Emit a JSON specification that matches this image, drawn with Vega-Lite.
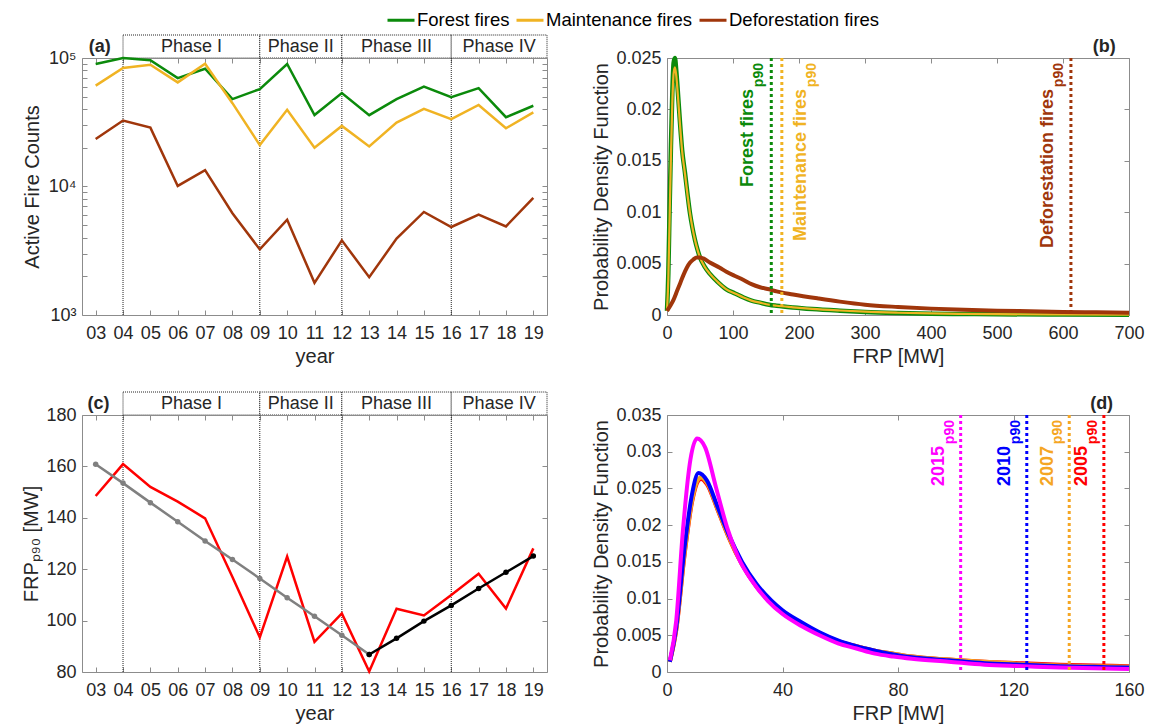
{
 "$schema": "https://vega.github.io/schema/vega-lite/v6.json",
 "padding": {"left": 21, "top": 5, "right": 5, "bottom": 5},
 "background": "white",
 "config": {
  "font": "Liberation Sans",
  "view": {"stroke": "#8c8c8c", "strokeWidth": 1},
  "axis": {"domain": false, "grid": false, "labelFontSize": 18, "titleFontSize": 20, "titleFontWeight": "normal", "labelColor": "#262626", "titleColor": "#262626", "tickColor": "#8c8c8c", "tickSize": -5, "labelFlush": false, "labelOverlap": false, "labelFont": "Liberation Sans", "titleFont": "Liberation Sans"},
  "axisX": {"labelPadding": 14, "titlePadding": 4},
  "axisY": {"labelPadding": 11, "titlePadding": 4},
  "legend": {"labelFont": "Liberation Sans"}
 },
 "datasets": {
  "phases": [
   {"phase": "Phase I", "start": 4, "end": 9},
   {"phase": "Phase II", "start": 9, "end": 12},
   {"phase": "Phase III", "start": 12, "end": 16},
   {"phase": "Phase IV", "start": 16, "end": 19.5}
  ],
  "fires": [
   {"year":3,"type":"Forest fires","count":89800},{"year":4,"type":"Forest fires","count":100000},{"year":5,"type":"Forest fires","count":96000},{"year":6,"type":"Forest fires","count":69800},{"year":7,"type":"Forest fires","count":82500},{"year":8,"type":"Forest fires","count":47900},{"year":9,"type":"Forest fires","count":57300},{"year":10,"type":"Forest fires","count":89800},{"year":11,"type":"Forest fires","count":36000},{"year":12,"type":"Forest fires","count":53300},{"year":13,"type":"Forest fires","count":35900},{"year":14,"type":"Forest fires","count":47900},{"year":15,"type":"Forest fires","count":60000},{"year":16,"type":"Forest fires","count":49500},{"year":17,"type":"Forest fires","count":58300},{"year":18,"type":"Forest fires","count":34600},{"year":19,"type":"Forest fires","count":42500},
   {"year":3,"type":"Maintenance fires","count":61000},{"year":4,"type":"Maintenance fires","count":83500},{"year":5,"type":"Maintenance fires","count":88700},{"year":6,"type":"Maintenance fires","count":64600},{"year":7,"type":"Maintenance fires","count":90300},{"year":8,"type":"Maintenance fires","count":44500},{"year":9,"type":"Maintenance fires","count":21000},{"year":10,"type":"Maintenance fires","count":39500},{"year":11,"type":"Maintenance fires","count":20000},{"year":12,"type":"Maintenance fires","count":29600},{"year":13,"type":"Maintenance fires","count":20500},{"year":14,"type":"Maintenance fires","count":31400},{"year":15,"type":"Maintenance fires","count":40200},{"year":16,"type":"Maintenance fires","count":33400},{"year":17,"type":"Maintenance fires","count":43100},{"year":18,"type":"Maintenance fires","count":28400},{"year":19,"type":"Maintenance fires","count":37700},
   {"year":3,"type":"Deforestation fires","count":23400},{"year":4,"type":"Deforestation fires","count":32600},{"year":5,"type":"Deforestation fires","count":28700},{"year":6,"type":"Deforestation fires","count":10100},{"year":7,"type":"Deforestation fires","count":13400},{"year":8,"type":"Deforestation fires","count":6200},{"year":9,"type":"Deforestation fires","count":3240},{"year":10,"type":"Deforestation fires","count":5520},{"year":11,"type":"Deforestation fires","count":1780},{"year":12,"type":"Deforestation fires","count":3810},{"year":13,"type":"Deforestation fires","count":1970},{"year":14,"type":"Deforestation fires","count":3930},{"year":15,"type":"Deforestation fires","count":6340},{"year":16,"type":"Deforestation fires","count":4840},{"year":17,"type":"Deforestation fires","count":6040},{"year":18,"type":"Deforestation fires","count":4890},{"year":19,"type":"Deforestation fires","count":8150}
  ],
  "pdfb": [
   {"type":"Forest fires","frp":0,"pdf":0.0004},{"type":"Forest fires","frp":2,"pdf":0.004},{"type":"Forest fires","frp":4,"pdf":0.0105},{"type":"Forest fires","frp":6,"pdf":0.0165},{"type":"Forest fires","frp":8,"pdf":0.0215},{"type":"Forest fires","frp":10,"pdf":0.0245},{"type":"Forest fires","frp":12,"pdf":0.025},{"type":"Forest fires","frp":14,"pdf":0.0238},{"type":"Forest fires","frp":17,"pdf":0.0212},{"type":"Forest fires","frp":19.7,"pdf":0.0187},{"type":"Forest fires","frp":23,"pdf":0.016},{"type":"Forest fires","frp":27.3,"pdf":0.0138},{"type":"Forest fires","frp":31,"pdf":0.0118},{"type":"Forest fires","frp":34.8,"pdf":0.0099},{"type":"Forest fires","frp":38.5,"pdf":0.0085},{"type":"Forest fires","frp":42.4,"pdf":0.0073},{"type":"Forest fires","frp":46,"pdf":0.0064},{"type":"Forest fires","frp":50,"pdf":0.0056},{"type":"Forest fires","frp":57,"pdf":0.0047},{"type":"Forest fires","frp":65,"pdf":0.004},{"type":"Forest fires","frp":77,"pdf":0.0032},{"type":"Forest fires","frp":90,"pdf":0.0025},{"type":"Forest fires","frp":103,"pdf":0.0021},{"type":"Forest fires","frp":116,"pdf":0.0017},{"type":"Forest fires","frp":128,"pdf":0.0014},{"type":"Forest fires","frp":141,"pdf":0.0012},{"type":"Forest fires","frp":155,"pdf":0.001},{"type":"Forest fires","frp":166,"pdf":0.0009},{"type":"Forest fires","frp":191,"pdf":0.00073},{"type":"Forest fires","frp":220,"pdf":0.00058},{"type":"Forest fires","frp":262,"pdf":0.00042},{"type":"Forest fires","frp":300,"pdf":0.0003},{"type":"Forest fires","frp":350,"pdf":0.0002},{"type":"Forest fires","frp":400,"pdf":0.00013},{"type":"Forest fires","frp":450,"pdf":0.0001},{"type":"Forest fires","frp":500,"pdf":0.00007},{"type":"Forest fires","frp":600,"pdf":0.00004},{"type":"Forest fires","frp":700,"pdf":0.00002},
   {"type":"Maintenance fires","frp":0,"pdf":0.0004},{"type":"Maintenance fires","frp":2,"pdf":0.0035},{"type":"Maintenance fires","frp":4,"pdf":0.0095},{"type":"Maintenance fires","frp":6,"pdf":0.0155},{"type":"Maintenance fires","frp":8,"pdf":0.0205},{"type":"Maintenance fires","frp":10,"pdf":0.0235},{"type":"Maintenance fires","frp":12,"pdf":0.0241},{"type":"Maintenance fires","frp":14,"pdf":0.0233},{"type":"Maintenance fires","frp":17,"pdf":0.0209},{"type":"Maintenance fires","frp":19.7,"pdf":0.0185},{"type":"Maintenance fires","frp":23,"pdf":0.0159},{"type":"Maintenance fires","frp":27.3,"pdf":0.0137},{"type":"Maintenance fires","frp":31,"pdf":0.0117},{"type":"Maintenance fires","frp":34.8,"pdf":0.0099},{"type":"Maintenance fires","frp":38.5,"pdf":0.0085},{"type":"Maintenance fires","frp":42.4,"pdf":0.0073},{"type":"Maintenance fires","frp":46,"pdf":0.0064},{"type":"Maintenance fires","frp":50,"pdf":0.0056},{"type":"Maintenance fires","frp":57,"pdf":0.0047},{"type":"Maintenance fires","frp":65,"pdf":0.004},{"type":"Maintenance fires","frp":77,"pdf":0.0032},{"type":"Maintenance fires","frp":90,"pdf":0.0025},{"type":"Maintenance fires","frp":103,"pdf":0.0021},{"type":"Maintenance fires","frp":116,"pdf":0.0017},{"type":"Maintenance fires","frp":128,"pdf":0.0014},{"type":"Maintenance fires","frp":141,"pdf":0.0012},{"type":"Maintenance fires","frp":155,"pdf":0.001},{"type":"Maintenance fires","frp":166,"pdf":0.0009},{"type":"Maintenance fires","frp":191,"pdf":0.00075},{"type":"Maintenance fires","frp":220,"pdf":0.0006},{"type":"Maintenance fires","frp":262,"pdf":0.00044},{"type":"Maintenance fires","frp":300,"pdf":0.00032},{"type":"Maintenance fires","frp":350,"pdf":0.00022},{"type":"Maintenance fires","frp":400,"pdf":0.00015},{"type":"Maintenance fires","frp":450,"pdf":0.00011},{"type":"Maintenance fires","frp":500,"pdf":0.00008},{"type":"Maintenance fires","frp":600,"pdf":0.00005},{"type":"Maintenance fires","frp":700,"pdf":0.00003},
   {"type":"Deforestation fires","frp":0,"pdf":0.0004},{"type":"Deforestation fires","frp":5,"pdf":0.0009},{"type":"Deforestation fires","frp":10,"pdf":0.0015},{"type":"Deforestation fires","frp":15,"pdf":0.0023},{"type":"Deforestation fires","frp":20,"pdf":0.0031},{"type":"Deforestation fires","frp":25,"pdf":0.0039},{"type":"Deforestation fires","frp":30,"pdf":0.0046},{"type":"Deforestation fires","frp":35,"pdf":0.0051},{"type":"Deforestation fires","frp":40,"pdf":0.0054},{"type":"Deforestation fires","frp":45,"pdf":0.0056},{"type":"Deforestation fires","frp":50,"pdf":0.0056},{"type":"Deforestation fires","frp":55,"pdf":0.0055},{"type":"Deforestation fires","frp":65,"pdf":0.0051},{"type":"Deforestation fires","frp":80,"pdf":0.0046},{"type":"Deforestation fires","frp":90,"pdf":0.0042},{"type":"Deforestation fires","frp":103,"pdf":0.0038},{"type":"Deforestation fires","frp":116,"pdf":0.0034},{"type":"Deforestation fires","frp":128,"pdf":0.003},{"type":"Deforestation fires","frp":141,"pdf":0.0027},{"type":"Deforestation fires","frp":155,"pdf":0.0025},{"type":"Deforestation fires","frp":166,"pdf":0.0023},{"type":"Deforestation fires","frp":191,"pdf":0.002},{"type":"Deforestation fires","frp":230,"pdf":0.0016},{"type":"Deforestation fires","frp":262,"pdf":0.0013},{"type":"Deforestation fires","frp":300,"pdf":0.001},{"type":"Deforestation fires","frp":350,"pdf":0.00078},{"type":"Deforestation fires","frp":400,"pdf":0.00062},{"type":"Deforestation fires","frp":450,"pdf":0.0005},{"type":"Deforestation fires","frp":500,"pdf":0.00042},{"type":"Deforestation fires","frp":550,"pdf":0.00036},{"type":"Deforestation fires","frp":600,"pdf":0.0003},{"type":"Deforestation fires","frp":650,"pdf":0.00026},{"type":"Deforestation fires","frp":700,"pdf":0.00022}
  ],
  "p90b": [
   {"type":"Forest fires","frp":158},
   {"type":"Maintenance fires","frp":174},
   {"type":"Deforestation fires","frp":612}
  ],
  "frpobs": [
   {"year":3,"v":148.5},{"year":4,"v":160.9},{"year":5,"v":152},{"year":6,"v":146.3},{"year":7,"v":139.8},{"year":8,"v":117},{"year":9,"v":93.5},{"year":10,"v":124.9},{"year":11,"v":91.7},{"year":12,"v":102.8},{"year":13,"v":80.2},{"year":14,"v":104.6},{"year":15,"v":102},{"year":16,"v":110},{"year":17,"v":118.2},{"year":18,"v":104.7},{"year":19,"v":128.1}
  ],
  "fit1": [
   {"year":3,"v":160.8},{"year":4,"v":153.5},{"year":5,"v":145.9},{"year":6,"v":138.5},{"year":7,"v":131},{"year":8,"v":123.8},{"year":9,"v":116.4},{"year":10,"v":108.9},{"year":11,"v":101.7},{"year":12,"v":94.3},{"year":13,"v":86.8}
  ],
  "fit2": [
   {"year":13,"v":86.8},{"year":14,"v":93.1},{"year":15,"v":99.8},{"year":16,"v":105.9},{"year":17,"v":112.5},{"year":18,"v":118.8},{"year":19,"v":125.1}
  ],
  "pdfd": [
   {"yr":"2005","frp":1,"pdf":0.0014},{"yr":"2005","frp":3.2,"pdf":0.0057},{"yr":"2005","frp":6.1,"pdf":0.016},{"yr":"2005","frp":8.7,"pdf":0.0232},{"yr":"2005","frp":10.9,"pdf":0.0261},{"yr":"2005","frp":11.8,"pdf":0.0263},{"yr":"2005","frp":13.8,"pdf":0.0256},{"yr":"2005","frp":17.6,"pdf":0.022},{"yr":"2005","frp":21.5,"pdf":0.0182},{"yr":"2005","frp":26,"pdf":0.0146},{"yr":"2005","frp":31,"pdf":0.0116},{"yr":"2005","frp":36.2,"pdf":0.0093},{"yr":"2005","frp":40,"pdf":0.008},{"yr":"2005","frp":46.4,"pdf":0.0065},{"yr":"2005","frp":52.8,"pdf":0.0053},{"yr":"2005","frp":59.2,"pdf":0.0042},{"yr":"2005","frp":65.6,"pdf":0.0035},{"yr":"2005","frp":72,"pdf":0.0029},{"yr":"2005","frp":78.4,"pdf":0.0025},{"yr":"2005","frp":84.8,"pdf":0.0021},{"yr":"2005","frp":97.6,"pdf":0.0017},{"yr":"2005","frp":110,"pdf":0.0014},{"yr":"2005","frp":123,"pdf":0.0012},{"yr":"2005","frp":136,"pdf":0.001},{"yr":"2005","frp":148,"pdf":0.0009},{"yr":"2005","frp":160,"pdf":0.0008},
   {"yr":"2007","frp":1,"pdf":0.0014},{"yr":"2007","frp":3.2,"pdf":0.0058},{"yr":"2007","frp":6.1,"pdf":0.0162},{"yr":"2007","frp":8.7,"pdf":0.0234},{"yr":"2007","frp":10.9,"pdf":0.0263},{"yr":"2007","frp":11.8,"pdf":0.0265},{"yr":"2007","frp":13.8,"pdf":0.0258},{"yr":"2007","frp":17.6,"pdf":0.0221},{"yr":"2007","frp":21.5,"pdf":0.0183},{"yr":"2007","frp":26,"pdf":0.0147},{"yr":"2007","frp":31,"pdf":0.0117},{"yr":"2007","frp":36.2,"pdf":0.0094},{"yr":"2007","frp":40,"pdf":0.0081},{"yr":"2007","frp":46.4,"pdf":0.0066},{"yr":"2007","frp":52.8,"pdf":0.0053},{"yr":"2007","frp":59.2,"pdf":0.0042},{"yr":"2007","frp":65.6,"pdf":0.0035},{"yr":"2007","frp":72,"pdf":0.0029},{"yr":"2007","frp":78.4,"pdf":0.0025},{"yr":"2007","frp":84.8,"pdf":0.0021},{"yr":"2007","frp":97.6,"pdf":0.0017},{"yr":"2007","frp":110,"pdf":0.0014},{"yr":"2007","frp":123,"pdf":0.0011},{"yr":"2007","frp":136,"pdf":0.0009},{"yr":"2007","frp":148,"pdf":0.0008},{"yr":"2007","frp":160,"pdf":0.0007},
   {"yr":"2010","frp":1,"pdf":0.0014},{"yr":"2010","frp":3.2,"pdf":0.0061},{"yr":"2010","frp":6.1,"pdf":0.017},{"yr":"2010","frp":8.7,"pdf":0.0243},{"yr":"2010","frp":10.9,"pdf":0.0271},{"yr":"2010","frp":13.8,"pdf":0.0261},{"yr":"2010","frp":17.6,"pdf":0.0224},{"yr":"2010","frp":21.5,"pdf":0.0186},{"yr":"2010","frp":26,"pdf":0.015},{"yr":"2010","frp":31,"pdf":0.012},{"yr":"2010","frp":36.2,"pdf":0.0097},{"yr":"2010","frp":40,"pdf":0.0084},{"yr":"2010","frp":46.4,"pdf":0.0068},{"yr":"2010","frp":52.8,"pdf":0.0054},{"yr":"2010","frp":59.2,"pdf":0.0043},{"yr":"2010","frp":65.6,"pdf":0.0035},{"yr":"2010","frp":72,"pdf":0.0029},{"yr":"2010","frp":78.4,"pdf":0.0024},{"yr":"2010","frp":84.8,"pdf":0.002},{"yr":"2010","frp":97.6,"pdf":0.0016},{"yr":"2010","frp":110,"pdf":0.0012},{"yr":"2010","frp":123,"pdf":0.001},{"yr":"2010","frp":136,"pdf":0.0008},{"yr":"2010","frp":148,"pdf":0.0007},{"yr":"2010","frp":160,"pdf":0.0006},
   {"yr":"2015","frp":1,"pdf":0.0016},{"yr":"2015","frp":3.2,"pdf":0.007},{"yr":"2015","frp":5.5,"pdf":0.0192},{"yr":"2015","frp":8.1,"pdf":0.0289},{"yr":"2015","frp":10.4,"pdf":0.0318},{"yr":"2015","frp":13.2,"pdf":0.0306},{"yr":"2015","frp":17,"pdf":0.0251},{"yr":"2015","frp":20.8,"pdf":0.0197},{"yr":"2015","frp":24.7,"pdf":0.0156},{"yr":"2015","frp":29.8,"pdf":0.0122},{"yr":"2015","frp":34.9,"pdf":0.0097},{"yr":"2015","frp":40,"pdf":0.0079},{"yr":"2015","frp":46.4,"pdf":0.0063},{"yr":"2015","frp":52.8,"pdf":0.005},{"yr":"2015","frp":59.2,"pdf":0.0039},{"yr":"2015","frp":65.6,"pdf":0.0032},{"yr":"2015","frp":72,"pdf":0.0025},{"yr":"2015","frp":78.4,"pdf":0.0021},{"yr":"2015","frp":84.8,"pdf":0.0018},{"yr":"2015","frp":97.6,"pdf":0.0014},{"yr":"2015","frp":110,"pdf":0.001},{"yr":"2015","frp":123,"pdf":0.0008},{"yr":"2015","frp":136,"pdf":0.0006},{"yr":"2015","frp":148,"pdf":0.0005},{"yr":"2015","frp":160,"pdf":0.0004}
  ],
  "p90d": [
   {"yr":"2015","frp":101.7},
   {"yr":"2010","frp":124.6},
   {"yr":"2007","frp":139.3},
   {"yr":"2005","frp":151.3}
  ]
 },
 "spacing": 24,
 "vconcat": [
  {
   "spacing": 43,
   "hconcat": [
    {
     "spacing": 0, "bounds": "flush",
     "vconcat": [
      {
       "width": 465, "height": 23, "view": {"stroke": null},
       "layer": [
        {"data": {"name": "phases"}, "mark": {"type": "rect", "fill": "white", "stroke": "#222", "strokeDash": [1, 1], "strokeWidth": 1},
         "encoding": {"x": {"field": "start", "type": "quantitative", "scale": {"domain": [2.5, 19.5]}, "axis": null}, "x2": {"field": "end"}}},
        {"data": {"name": "phases"}, "transform": [{"calculate": "(datum.start + datum.end) / 2", "as": "mid"}],
         "mark": {"type": "text", "fontSize": 18, "color": "#262626", "baseline": "middle"},
         "encoding": {"x": {"field": "mid", "type": "quantitative", "scale": {"domain": [2.5, 19.5]}, "axis": null}, "text": {"field": "phase"}}},
        {"data": {"values": [{"lab": "(a)"}]}, "mark": {"type": "text", "fontSize": 18, "fontWeight": "bold", "color": "#262626", "align": "left", "baseline": "middle"},
         "encoding": {"x": {"datum": 2.75, "scale": {"domain": [2.5, 19.5]}, "axis": null}, "text": {"field": "lab"}}}
       ]
      },
      {
       "width": 465, "height": 257,
       "resolve": {"axis": {"x": "independent", "y": "independent"}},
       "layer": [
        {
         "encoding": {
          "x": {"field": "year", "type": "quantitative", "scale": {"domain": [2.5, 19.5]},
                "axis": {"title": "year", "values": [3,4,5,6,7,8,9,10,11,12,13,14,15,16,17,18,19], "labelExpr": "datum.value < 10 ? '0' + datum.value : '' + datum.value"}},
          "y": {"field": "count", "type": "quantitative", "scale": {"type": "log", "domain": [1000, 100000]},
                "axis": {"title": "Active Fire Counts", "values": [1000,2000,3000,4000,5000,6000,7000,8000,9000,10000,20000,30000,40000,50000,60000,70000,80000,90000,100000], "minExtent": 36, "titlePadding": 4, "labelExpr": "datum.value == 1000 ? '10³' : (datum.value == 10000 ? '10⁴' : (datum.value == 100000 ? '10⁵' : ''))"}}
         },
         "layer": [
          {"data": {"name": "phases"}, "transform": [{"filter": "datum.start < 19"}], "mark": {"type": "rule", "color": "#222", "strokeDash": [1, 1], "strokeWidth": 1},
           "encoding": {"x": {"field": "start", "type": "quantitative"}, "y": null}},
          {"data": {"name": "fires"}, "mark": {"type": "line", "strokeWidth": 2.5},
           "encoding": {
            "color": {"field": "type", "type": "nominal",
                      "scale": {"domain": ["Forest fires", "Maintenance fires", "Deforestation fires"], "range": ["#0b8a0b", "#f0b323", "#a0360b"]},
                      "legend": {"orient": "none", "direction": "horizontal", "legendX": 304, "legendY": -30, "title": null, "labelFontSize": 18.5, "labelColor": "#000", "symbolType": "stroke", "symbolSize": 729, "symbolStrokeWidth": 3, "labelOffset": 1, "columnPadding": 0, "padding": 0, "labelLimit": 300}}
           }}
         ]
        },
        {"data": {"name": "fires"}, "mark": {"type": "line", "opacity": 0},
         "encoding": {
          "x": {"field": "year", "type": "quantitative", "scale": {"domain": [2.5, 19.5]}, "axis": {"orient": "top", "title": null, "labels": false, "values": [3,4,5,6,7,8,9,10,11,12,13,14,15,16,17,18,19]}},
          "y": {"field": "count", "type": "quantitative", "scale": {"type": "log", "domain": [1000, 100000]}, "axis": {"orient": "right", "title": null, "labels": false, "values": [1000,2000,3000,4000,5000,6000,7000,8000,9000,10000,20000,30000,40000,50000,60000,70000,80000,90000,100000]}},
          "detail": {"field": "type"}
         }}
       ]
      }
     ]
    },
    {
     "spacing": 0, "bounds": "flush",
     "vconcat": [
      {
       "width": 462, "height": 23, "view": {"stroke": null},
       "data": {"values": [{"lab": "(b)"}]},
       "mark": {"type": "text", "fontSize": 18, "fontWeight": "bold", "color": "#262626", "align": "right", "baseline": "middle"},
       "encoding": {"x": {"datum": 680, "scale": {"domain": [0, 700]}, "axis": null}, "text": {"field": "lab"}}
      },
      {
       "width": 462, "height": 257,
       "resolve": {"axis": {"x": "independent", "y": "independent"}},
       "layer": [
        {
         "encoding": {
          "x": {"field": "frp", "type": "quantitative", "scale": {"domain": [0, 700], "nice": false}, "axis": {"title": "FRP [MW]", "values": [0,100,200,300,400,500,600,700]}},
          "color": {"field": "type", "type": "nominal"}
         },
         "layer": [
          {"data": {"name": "pdfb"}, "transform": [{"filter": "datum.type == 'Forest fires'"}], "mark": {"type": "line", "strokeWidth": 4.5, "interpolate": "monotone"},
           "encoding": {"y": {"field": "pdf", "type": "quantitative", "scale": {"domain": [0, 0.025], "nice": false}, "axis": {"title": "Probability Density Function", "values": [0,0.005,0.01,0.015,0.02,0.025], "format": "~g", "titlePadding": 4}}}},
          {"data": {"name": "pdfb"}, "transform": [{"filter": "datum.type == 'Maintenance fires'"}], "mark": {"type": "line", "strokeWidth": 2.2, "interpolate": "monotone"},
           "encoding": {"y": {"field": "pdf", "type": "quantitative", "scale": {"domain": [0, 0.025], "nice": false}, "axis": {"title": "Probability Density Function", "values": [0,0.005,0.01,0.015,0.02,0.025], "format": "~g", "titlePadding": 4}}}},
          {"data": {"name": "pdfb"}, "transform": [{"filter": "datum.type == 'Deforestation fires'"}], "mark": {"type": "line", "strokeWidth": 4, "interpolate": "monotone"},
           "encoding": {"y": {"field": "pdf", "type": "quantitative", "scale": {"domain": [0, 0.025], "nice": false}, "axis": {"title": "Probability Density Function", "values": [0,0.005,0.01,0.015,0.02,0.025], "format": "~g", "titlePadding": 4}}}},
          {"data": {"name": "p90b"}, "mark": {"type": "rule", "strokeWidth": 3, "strokeDash": [3, 3]}},
          {"data": {"name": "p90b"}, "transform": [{"filter": "datum.type != 'Maintenance fires'"}],
           "mark": {"type": "text", "angle": 270, "align": "right", "baseline": "alphabetic", "fontSize": 18, "fontWeight": "bold", "dx": -31, "dy": -18},
           "encoding": {"y": {"datum": 0.025, "type": "quantitative", "scale": {"domain": [0, 0.025], "nice": false}, "axis": {"title": "Probability Density Function", "values": [0,0.005,0.01,0.015,0.02,0.025], "format": "~g", "titlePadding": 4}}, "text": {"field": "type"}}},
          {"data": {"name": "p90b"}, "transform": [{"filter": "datum.type != 'Maintenance fires'"}],
           "mark": {"type": "text", "angle": 270, "align": "right", "baseline": "alphabetic", "fontSize": 14, "fontWeight": "bold", "dx": -5, "dy": -8, "text": "p90"},
           "encoding": {"y": {"datum": 0.025, "type": "quantitative", "scale": {"domain": [0, 0.025], "nice": false}, "axis": {"title": "Probability Density Function", "values": [0,0.005,0.01,0.015,0.02,0.025], "format": "~g", "titlePadding": 4}}}},
          {"data": {"name": "p90b"}, "transform": [{"filter": "datum.type == 'Maintenance fires'"}],
           "mark": {"type": "text", "angle": 270, "align": "right", "baseline": "alphabetic", "fontSize": 18, "fontWeight": "bold", "dx": -31, "dy": 24},
           "encoding": {"y": {"datum": 0.025, "type": "quantitative", "scale": {"domain": [0, 0.025], "nice": false}, "axis": {"title": "Probability Density Function", "values": [0,0.005,0.01,0.015,0.02,0.025], "format": "~g", "titlePadding": 4}}, "text": {"field": "type"}}},
          {"data": {"name": "p90b"}, "transform": [{"filter": "datum.type == 'Maintenance fires'"}],
           "mark": {"type": "text", "angle": 270, "align": "right", "baseline": "alphabetic", "fontSize": 14, "fontWeight": "bold", "dx": -5, "dy": 34, "text": "p90"},
           "encoding": {"y": {"datum": 0.025, "type": "quantitative", "scale": {"domain": [0, 0.025], "nice": false}, "axis": {"title": "Probability Density Function", "values": [0,0.005,0.01,0.015,0.02,0.025], "format": "~g", "titlePadding": 4}}}}
         ]
        },
        {"data": {"name": "pdfb"}, "mark": {"type": "line", "opacity": 0},
         "encoding": {
          "x": {"field": "frp", "type": "quantitative", "scale": {"domain": [0, 700], "nice": false}, "axis": {"orient": "top", "title": null, "labels": false, "values": [0,100,200,300,400,500,600,700]}},
          "y": {"field": "pdf", "type": "quantitative", "scale": {"domain": [0, 0.025], "nice": false}, "axis": {"orient": "right", "title": null, "labels": false, "values": [0,0.005,0.01,0.015,0.02,0.025]}},
          "detail": {"field": "type"}
         }}
       ]
      }
     ]
    }
   ]
  },
  {
   "spacing": 43,
   "hconcat": [
    {
     "spacing": 0, "bounds": "flush",
     "vconcat": [
      {
       "width": 465, "height": 23, "view": {"stroke": null},
       "layer": [
        {"data": {"name": "phases"}, "mark": {"type": "rect", "fill": "white", "stroke": "#222", "strokeDash": [1, 1], "strokeWidth": 1},
         "encoding": {"x": {"field": "start", "type": "quantitative", "scale": {"domain": [2.5, 19.5]}, "axis": null}, "x2": {"field": "end"}}},
        {"data": {"name": "phases"}, "transform": [{"calculate": "(datum.start + datum.end) / 2", "as": "mid"}],
         "mark": {"type": "text", "fontSize": 18, "color": "#262626", "baseline": "middle"},
         "encoding": {"x": {"field": "mid", "type": "quantitative", "scale": {"domain": [2.5, 19.5]}, "axis": null}, "text": {"field": "phase"}}},
        {"data": {"values": [{"lab": "(c)"}]}, "mark": {"type": "text", "fontSize": 18, "fontWeight": "bold", "color": "#262626", "align": "left", "baseline": "middle"},
         "encoding": {"x": {"datum": 2.7, "scale": {"domain": [2.5, 19.5]}, "axis": null}, "text": {"field": "lab"}}}
       ]
      },
      {
       "width": 465, "height": 257,
       "resolve": {"axis": {"x": "independent", "y": "independent"}},
       "layer": [
        {
         "encoding": {
          "x": {"field": "year", "type": "quantitative", "scale": {"domain": [2.5, 19.5]},
                "axis": {"title": "year", "values": [3,4,5,6,7,8,9,10,11,12,13,14,15,16,17,18,19], "labelExpr": "datum.value < 10 ? '0' + datum.value : '' + datum.value"}},
          "y": {"field": "v", "type": "quantitative", "scale": {"domain": [80, 180]},
                "axis": {"title": "FRPₚ₉₀ [MW]", "values": [80, 100, 120, 140, 160, 180], "minExtent": 36, "titlePadding": 4}}
         },
         "layer": [
          {"data": {"name": "phases"}, "transform": [{"filter": "datum.start < 19"}], "mark": {"type": "rule", "color": "#222", "strokeDash": [1, 1], "strokeWidth": 1},
           "encoding": {"x": {"field": "start", "type": "quantitative"}, "y": null}},
          {"data": {"name": "frpobs"}, "mark": {"type": "line", "color": "#ff0000", "strokeWidth": 2.5}},
          {"data": {"name": "fit1"}, "mark": {"type": "line", "color": "#808080", "strokeWidth": 2.5}},
          {"data": {"name": "fit1"}, "mark": {"type": "point", "filled": true, "color": "#808080", "size": 30, "opacity": 1}},
          {"data": {"name": "fit2"}, "mark": {"type": "line", "color": "#000000", "strokeWidth": 2.5}},
          {"data": {"name": "fit2"}, "mark": {"type": "point", "filled": true, "color": "#000000", "size": 30, "opacity": 1}}
         ]
        },
        {"data": {"name": "frpobs"}, "mark": {"type": "line", "opacity": 0},
         "encoding": {
          "x": {"field": "year", "type": "quantitative", "scale": {"domain": [2.5, 19.5]}, "axis": {"orient": "top", "title": null, "labels": false, "values": [3,4,5,6,7,8,9,10,11,12,13,14,15,16,17,18,19]}},
          "y": {"field": "v", "type": "quantitative", "scale": {"domain": [80, 180]}, "axis": {"orient": "right", "title": null, "labels": false, "values": [80, 100, 120, 140, 160, 180]}}
         }}
       ]
      }
     ]
    },
    {
     "spacing": 0, "bounds": "flush",
     "vconcat": [
      {
       "width": 462, "height": 23, "view": {"stroke": null},
       "data": {"values": [{"lab": "(d)"}]},
       "mark": {"type": "text", "fontSize": 18, "fontWeight": "bold", "color": "#262626", "align": "right", "baseline": "middle"},
       "encoding": {"x": {"datum": 154.5, "scale": {"domain": [0, 160]}, "axis": null}, "text": {"field": "lab"}}
      },
      {
       "width": 462, "height": 257,
       "resolve": {"axis": {"x": "independent", "y": "independent"}},
       "layer": [
        {
         "encoding": {
          "x": {"field": "frp", "type": "quantitative", "scale": {"domain": [0, 160], "nice": false}, "axis": {"title": "FRP [MW]", "values": [0, 40, 80, 120, 160]}}
         },
         "layer": [
          {"data": {"name": "pdfd"}, "mark": {"type": "line", "strokeWidth": 4, "interpolate": "monotone"},
           "encoding": {
            "y": {"field": "pdf", "type": "quantitative", "scale": {"domain": [0, 0.035], "nice": false}, "axis": {"title": "Probability Density Function", "values": [0,0.005,0.01,0.015,0.02,0.025,0.03,0.035], "format": "~g", "titlePadding": 4}},
            "stroke": {"field": "yr", "type": "nominal", "scale": {"domain": ["2005", "2007", "2010", "2015"], "range": ["#ff0000", "#f5a623", "#0000ff", "#ff00ff"]}, "legend": null}}},
          {"data": {"name": "p90d"}, "mark": {"type": "rule", "strokeWidth": 3, "strokeDash": [3, 3]},
           "encoding": {"stroke": {"field": "yr", "type": "nominal", "legend": null}}},
          {"data": {"name": "p90d"},
           "mark": {"type": "text", "angle": 270, "align": "right", "baseline": "alphabetic", "fontSize": 18, "fontWeight": "bold", "dx": -31, "dy": -16.5},
           "encoding": {"y": {"datum": 0.035, "type": "quantitative", "scale": {"domain": [0, 0.035], "nice": false}, "axis": {"title": "Probability Density Function", "values": [0,0.005,0.01,0.015,0.02,0.025,0.03,0.035], "format": "~g", "titlePadding": 4}}, "text": {"field": "yr"}, "fill": {"field": "yr", "type": "nominal", "scale": {"domain": ["2005", "2007", "2010", "2015"], "range": ["#ff0000", "#f5a623", "#0000ff", "#ff00ff"]}, "legend": null}}},
          {"data": {"name": "p90d"},
           "mark": {"type": "text", "angle": 270, "align": "right", "baseline": "alphabetic", "fontSize": 14, "fontWeight": "bold", "dx": -5, "dy": -7, "text": "p90"},
           "encoding": {"y": {"datum": 0.035, "type": "quantitative", "scale": {"domain": [0, 0.035], "nice": false}, "axis": {"title": "Probability Density Function", "values": [0,0.005,0.01,0.015,0.02,0.025,0.03,0.035], "format": "~g", "titlePadding": 4}}, "fill": {"field": "yr", "type": "nominal", "legend": null}}}
         ]
        },
        {"data": {"name": "pdfd"}, "mark": {"type": "line", "opacity": 0},
         "encoding": {
          "x": {"field": "frp", "type": "quantitative", "scale": {"domain": [0, 160], "nice": false}, "axis": {"orient": "top", "title": null, "labels": false, "values": [0, 40, 80, 120, 160]}},
          "y": {"field": "pdf", "type": "quantitative", "scale": {"domain": [0, 0.035], "nice": false}, "axis": {"orient": "right", "title": null, "labels": false, "values": [0,0.005,0.01,0.015,0.02,0.025,0.03,0.035]}},
          "detail": {"field": "yr"}
         }}
       ]
      }
     ]
    }
   ]
  }
 ]
}
